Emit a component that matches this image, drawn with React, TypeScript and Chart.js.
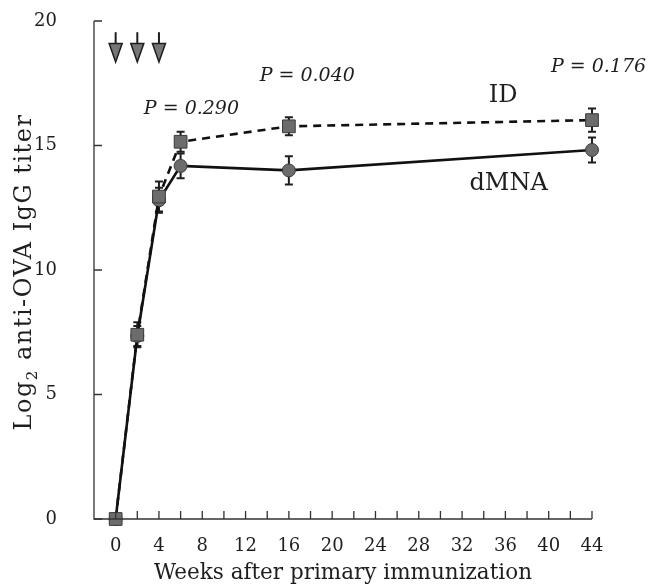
import React, { useEffect, useRef } from "react";
import { Chart, registerables } from "chart.js";

Chart.register(...registerables);

// ---- data ----
const weeks = [0, 2, 4, 6, 16, 44];
const idMeans = [0, 7.4, 12.95, 15.15, 15.77, 16.02];
const idErrors = [0, 0.5, 0.6, 0.4, 0.36, 0.47];
const dmnaMeans = [0, 7.35, 12.8, 14.18, 14.0, 14.82];
const dmnaErrors = [0, 0.4, 0.5, 0.5, 0.57, 0.5];
const seriesNames = ["ID", "dMNA"];
const arrowWeeks = [0, 2, 4];
const arrowTopValue = 19.55;
const arrowTipValue = 18.35;
const annotationTexts = ["P = 0.290", "P = 0.040", "P = 0.176", "ID", "dMNA"];
const annotationX = [7.0, 17.7, 44.6, 35.8, 36.3];
const annotationY = [16.45, 17.8, 18.15, 17.0, 13.45];
const annotationItalic = [true, true, true, false, false];
const xTitle = "Weeks after primary immunization";
const yTitleMain = "Log";
const yTitleSub = "2";
const yTitleRest = " anti-OVA IgG titer";

const SERIF = "'DejaVu Serif', serif";
const INK = "#1e1e1e";

const errorBarPlugin = {
  id: "errorBars",
  beforeDatasetsDraw(chart: any) {
    const ctx = chart.ctx;
    const yScale = chart.scales.y;
    const errs = [idErrors, dmnaErrors];
    const means = [idMeans, dmnaMeans];
    ctx.save();
    ctx.strokeStyle = INK;
    ctx.lineWidth = 2;
    chart.data.datasets.forEach((_: any, di: number) => {
      const meta = chart.getDatasetMeta(di);
      meta.data.forEach((pt: any, i: number) => {
        const e = errs[di][i];
        if (!e) return;
        const x = pt.x;
        const yt = yScale.getPixelForValue(means[di][i] + e);
        const yb = yScale.getPixelForValue(means[di][i] - e);
        ctx.beginPath();
        ctx.moveTo(x, yt);
        ctx.lineTo(x, yb);
        ctx.moveTo(x - 4, yt);
        ctx.lineTo(x + 4, yt);
        ctx.moveTo(x - 4, yb);
        ctx.lineTo(x + 4, yb);
        ctx.stroke();
      });
    });
    ctx.restore();
  },
};

const decorPlugin = {
  id: "decor",
  afterDraw(chart: any) {
    const ctx = chart.ctx;
    const xs = chart.scales.x;
    const ys = chart.scales.y;
    const area = chart.chartArea;
    ctx.save();
    // axes
    ctx.strokeStyle = "#333";
    ctx.lineWidth = 1.3;
    ctx.beginPath();
    ctx.moveTo(area.left, area.top);
    ctx.lineTo(area.left, area.bottom);
    ctx.lineTo(area.right, area.bottom);
    ctx.stroke();
    // ticks (inward)
    ctx.beginPath();
    xs.ticks.forEach((t: any) => {
      const px = xs.getPixelForValue(t.value);
      ctx.moveTo(px, area.bottom);
      ctx.lineTo(px, area.bottom - 8);
    });
    ys.ticks.forEach((t: any) => {
      const py = ys.getPixelForValue(t.value);
      ctx.moveTo(area.left, py);
      ctx.lineTo(area.left + 8, py);
    });
    ctx.stroke();

    // arrows
    arrowWeeks.forEach((w) => {
      const px = xs.getPixelForValue(w);
      const top = ys.getPixelForValue(arrowTopValue);
      const tip = ys.getPixelForValue(arrowTipValue);
      const headTop = top + (tip - top) * 0.38;
      ctx.strokeStyle = INK;
      ctx.lineWidth = 2;
      ctx.beginPath();
      ctx.moveTo(px, top);
      ctx.lineTo(px, headTop);
      ctx.stroke();
      ctx.beginPath();
      ctx.moveTo(px - 6.5, headTop);
      ctx.lineTo(px + 6.5, headTop);
      ctx.lineTo(px, tip);
      ctx.closePath();
      ctx.fillStyle = "#767676";
      ctx.fill();
      ctx.lineWidth = 1.5;
      ctx.stroke();
    });

    // annotations
    ctx.fillStyle = INK;
    ctx.textAlign = "center";
    ctx.textBaseline = "middle";
    annotationTexts.forEach((txt, i) => {
      ctx.font = annotationItalic[i] ? `italic 19px ${SERIF}` : `24px ${SERIF}`;
      ctx.fillText(txt, xs.getPixelForValue(annotationX[i]), ys.getPixelForValue(annotationY[i]));
    });

    // y title with subscript
    const mainFont = `24px ${SERIF}`;
    const subFont = `15px ${SERIF}`;
    (ctx as any).letterSpacing = "1.5px";
    ctx.font = mainFont;
    const w1 = ctx.measureText(yTitleMain).width;
    const w3 = ctx.measureText(yTitleRest).width;
    ctx.font = subFont;
    const w2 = ctx.measureText(yTitleSub).width;
    const total = w1 + w2 + w3;
    ctx.translate(23, (area.top + area.bottom) / 2 + 2);
    ctx.rotate(-Math.PI / 2);
    ctx.textAlign = "left";
    ctx.textBaseline = "alphabetic";
    let cx = -total / 2;
    ctx.font = mainFont;
    ctx.fillText(yTitleMain, cx, 8);
    cx += w1;
    ctx.font = subFont;
    ctx.fillText(yTitleSub, cx, 14);
    cx += w2;
    ctx.font = mainFont;
    ctx.fillText(yTitleRest, cx, 8);
    ctx.restore();
  },
};

export default function App() {
  const ref = useRef<HTMLCanvasElement | null>(null);
  useEffect(() => {
    if (!ref.current) return;
    const chart = new Chart(ref.current, {
      type: "line",
      data: {
        datasets: [
          {
            label: seriesNames[0],
            data: weeks.map((w, i) => ({ x: w, y: idMeans[i] })),
            borderColor: "#111",
            borderWidth: 2.6,
            borderDash: [8, 6],
            pointStyle: "rect",
            pointRadius: 9,
            pointBackgroundColor: "#6c6c6c",
            pointBorderColor: "#3a3a3a",
            pointBorderWidth: 1,
            tension: 0,
            clip: false,
          },
          {
            label: seriesNames[1],
            data: weeks.map((w, i) => ({ x: w, y: dmnaMeans[i] })),
            borderColor: "#111",
            borderWidth: 2.6,
            pointStyle: "circle",
            pointRadius: 6.5,
            pointBackgroundColor: "#6c6c6c",
            pointBorderColor: "#3a3a3a",
            pointBorderWidth: 1,
            tension: 0,
            clip: false,
          },
        ],
      },
      options: {
        animation: false,
        responsive: false,
        maintainAspectRatio: false,
        layout: { padding: { top: 21, right: 56, left: 0, bottom: 0 } },
        plugins: { legend: { display: false }, tooltip: { enabled: false } },
        scales: {
          x: {
            type: "linear",
            min: -2,
            max: 44,
            grid: { display: false, drawTicks: false },
            border: { display: false },
            afterBuildTicks: (scale: any) => {
              const t = [];
              for (let v = 0; v <= 44; v += 2) t.push({ value: v });
              scale.ticks = t;
            },
            afterFit: (scale: any) => {
              scale.height = 67;
              scale.paddingLeft = 0;
              scale.paddingRight = 0;
            },
            ticks: {
              autoSkip: false,
              maxRotation: 0,
              padding: 17,
              color: INK,
              font: { family: SERIF, size: 18 },
              callback: (v: any) => (Number(v) % 4 === 0 ? String(v) : ""),
            },
            title: {
              display: true,
              text: xTitle,
              color: INK,
              font: { family: SERIF, size: 21.5 },
              padding: { top: 0, bottom: 0 },
            },
          },
          y: {
            type: "linear",
            min: 0,
            max: 20,
            grid: { display: false, drawTicks: false },
            border: { display: false },
            afterFit: (scale: any) => {
              scale.width = 94;
              scale.paddingTop = 0;
              scale.paddingBottom = 0;
            },
            ticks: {
              stepSize: 5,
              padding: 37,
              color: INK,
              font: { family: SERIF, size: 18 },
            },
          },
        },
      },
      plugins: [errorBarPlugin, decorPlugin],
    });
    return () => chart.destroy();
  }, []);
  return (
    <div style={{ position: "absolute", left: 0, top: 0, width: 648, height: 586, background: "#fff" }}>
      <canvas ref={ref} width={648} height={586} style={{ width: 648, height: 586 }} />
    </div>
  );
}
